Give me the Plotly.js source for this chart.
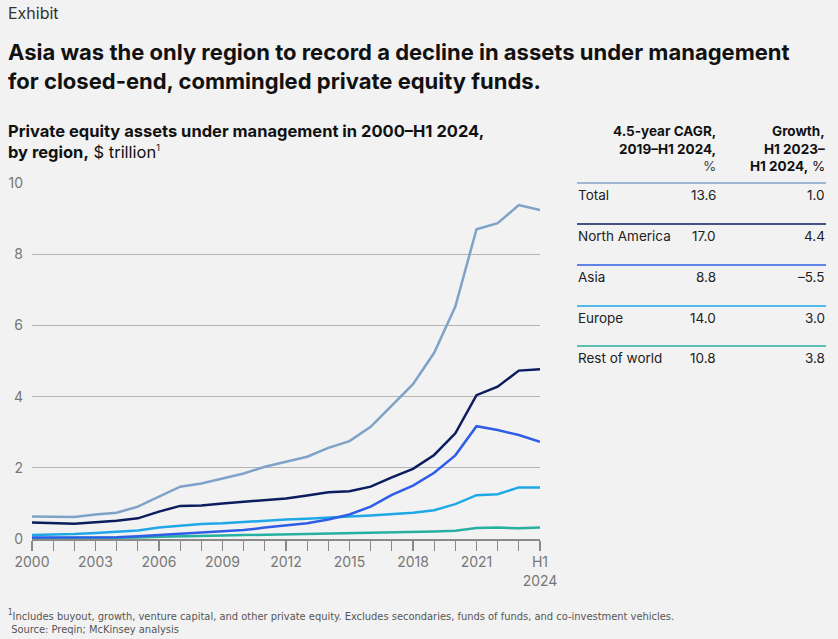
<!DOCTYPE html>
<html>
<head>
<meta charset="utf-8">
<script src="https://cdn.plot.ly/plotly-3.0.1.min.js"></script>
<style>html,body{margin:0;padding:0;background:#f2f2f2;}</style>
</head>
<body>
<div id="chart" style="width:838px;height:639px;"></div>
<script>
// ---- Data ----
var periods = ["2000","2001","2002","2003","2004","2005","2006","2007","2008","2009","2010","2011","2012","2013","2014","2015","2016","2017","2018","2019","2020","2021","2022","2023","H1 2024"];
var total        = [0.63,0.62,0.62,0.69,0.74,0.91,1.19,1.47,1.56,1.69,1.84,2.03,2.17,2.31,2.56,2.75,3.15,3.76,4.35,5.23,6.53,8.70,8.87,9.38,9.24];
var northAmerica = [0.46,0.45,0.43,0.47,0.51,0.58,0.77,0.93,0.94,1.00,1.04,1.10,1.14,1.22,1.31,1.34,1.47,1.73,1.97,2.36,2.97,4.04,4.28,4.73,4.77];
var asia         = [0.04,0.04,0.04,0.05,0.05,0.08,0.11,0.16,0.18,0.21,0.25,0.32,0.38,0.44,0.55,0.69,0.91,1.24,1.50,1.86,2.35,3.17,3.06,2.92,2.73];
var europe       = [0.11,0.12,0.14,0.17,0.20,0.24,0.32,0.38,0.42,0.44,0.48,0.51,0.55,0.57,0.61,0.63,0.66,0.69,0.74,0.81,0.98,1.23,1.26,1.45,1.45];
var restOfWorld  = [0.02,0.02,0.02,0.02,0.03,0.04,0.06,0.08,0.09,0.10,0.11,0.12,0.13,0.14,0.15,0.17,0.17,0.18,0.19,0.21,0.23,0.31,0.32,0.30,0.32];
var tickLabelText = ["2000","2003","2006","2009","2012","2015","2018","2021","H1<br>2024"];
var tickLabelIdx  = [0,3,6,9,12,15,18,21,24];
var yTicks = [0,2,4,6,8,10];

var tableRows  = ["Total","North America","Asia","Europe","Rest of world"];
var cagr       = ["13.6","17.0","8.8","14.0","10.8"];
var growth     = ["1.0","4.4","–5.5","3.0","3.8"];

// ---- Styling ----
var colors = {
  "Total": "#7fa2c8",
  "North America": "#0b1d5e",
  "Asia": "#2f5de6",
  "Europe": "#1fa8e6",
  "Rest of world": "#27b0a0"
};
var seriesList = [
  ["Total", total],
  ["North America", northAmerica],
  ["Asia", asia],
  ["Europe", europe],
  ["Rest of world", restOfWorld]
];
var xs = periods.map(function(_, i){ return i; });

var drawOrder = ["Rest of world","Europe","Asia","North America","Total"];
var traces = drawOrder.map(function(name){
  var s = seriesList.filter(function(r){ return r[0] === name; })[0];
  return {
    x: xs, y: s[1], type: "scatter", mode: "lines", name: name,
    line: {color: colors[name], width: 2.5}, hoverinfo: "skip"
  };
});

// plot area in px
var L = 32, R = 540, T = 183, B = 539;
function px(x){ return (x - L) / (R - L); }
function py(y){ return (B - y) / (B - T); }

var ann = [];
var FONT = "Inter, 'Liberation Sans', Arial, sans-serif";
function txt(t, x, y, size, color, anchor, family){
  ann.push({text: t, x: px(x), y: py(y), xref: "paper", yref: "paper",
    xanchor: anchor || "left", yanchor: "middle", showarrow: false,
    font: {size: size, color: color, family: family || FONT}});
}

txt("Exhibit", 6, 13, 16, "#333333");
txt("<b>Asia was the only region to record a decline in assets under management</b>", 6, 52, 22, "#111111");
txt("<b>for closed-end, commingled private equity funds.</b>", 6, 81, 22, "#111111");
txt("<b>Private equity assets under management in 2000–H1 2024,</b>", 6, 131, 16.5, "#111111");
txt("<b>by region,</b> $ trillion<sup><span style=\"font-size:9px\">1</span></sup>", 6, 152, 16.5, "#111111");

// table headers
txt("<b>4.5-year CAGR,</b>", 718, 131, 13.5, "#111111", "right");
txt("<b>2019–H1 2024,</b>", 718, 149, 13.5, "#111111", "right");
txt("%", 718, 166, 13.5, "#444444", "right");
txt("<b>Growth,</b>", 827, 131, 13.5, "#111111", "right");
txt("<b>H1 2023–</b>", 827, 149, 13.5, "#111111", "right");
txt("<b>H1 2024,</b> %", 827, 166, 13.5, "#111111", "right");

var shapes = [];
var rowTop = [183, 224, 265, 306, 346];
tableRows.forEach(function(name, i){
  shapes.push({type: "line", xref: "paper", yref: "paper",
    x0: px(577), x1: px(826), y0: py(rowTop[i]), y1: py(rowTop[i]),
    line: {color: colors[name], width: 1.5}});
  var ty = rowTop[i] + 12;
  txt(name, 576, ty, 13.5, "#222222", "left");
  txt(cagr[i], 718, ty, 13.5, "#222222", "right");
  txt(growth[i], 827, ty, 13.5, "#222222", "right");
});

// footnotes
var NARROW = "'Liberation Sans Narrow', 'DejaVu Sans Condensed', 'Liberation Sans', sans-serif";
txt("<sup><span style=\"font-size:8px\">1</span></sup>Includes buyout, growth, venture capital, and other private equity. Excludes secondaries, funds of funds, and co-investment vehicles.", 6, 615, 11, "#555555", "left", NARROW);
txt(" Source: Preqin; McKinsey analysis", 6, 629, 11, "#555555", "left", NARROW);

var layout = {
  width: 838, height: 639,
  paper_bgcolor: "#f2f2f2", plot_bgcolor: "#f2f2f2",
  margin: {l: L, r: 838 - R, t: T, b: 639 - B, pad: 0},
  showlegend: false,
  font: {family: FONT, color: "#777777"},
  xaxis: {
    range: [0, 24], tickmode: "array", tickvals: tickLabelIdx, ticktext: tickLabelText,
    ticks: "outside", ticklen: 10, tickcolor: "#8a8a8a", tickwidth: 1.2,
    minor: {tick0: 0, dtick: 1, ticks: "outside", ticklen: 10, tickcolor: "#8a8a8a", tickwidth: 1.2, showgrid: false},
    showgrid: false, zeroline: false, showline: true, linecolor: "#8a8a8a", linewidth: 1.5,
    tickfont: {size: 14, color: "#777777", family: FONT}, fixedrange: true
  },
  yaxis: {
    range: [0, 10], tickmode: "array", tickvals: yTicks,
    showgrid: true, gridcolor: "#b5b5b5", gridwidth: 1, zeroline: false,
    showline: false, ticks: "", ticklabelstandoff: 8,
    tickfont: {size: 14, color: "#777777", family: FONT},
    fixedrange: true
  },
  annotations: ann,
  shapes: shapes
};

Plotly.newPlot("chart", traces, layout, {displayModeBar: false, staticPlot: true});
</script>
</body>
</html>
